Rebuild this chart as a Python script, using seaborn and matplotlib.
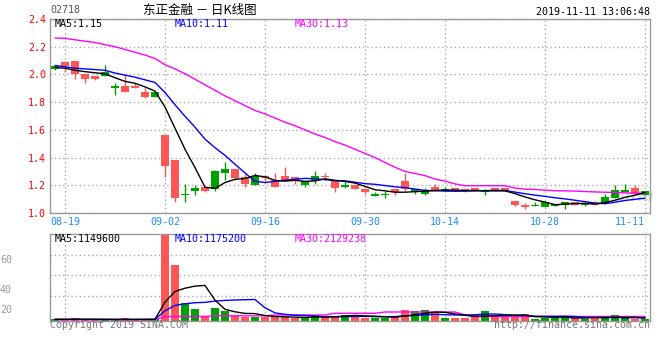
import matplotlib
matplotlib.use('Agg')

import matplotlib.pyplot as plt
import seaborn as sns
import numpy as np

# trading days shown (HK market, 2019)
days = ['08-16', '08-19', '08-20', '08-21', '08-22', '08-23', '08-26', '08-27', '08-28', '08-29',
        '08-30', '09-02', '09-03', '09-04', '09-05', '09-06', '09-09', '09-10', '09-11', '09-12',
        '09-13', '09-16', '09-17', '09-18', '09-19', '09-20', '09-23', '09-24', '09-25', '09-26',
        '09-27', '09-30', '10-02', '10-03', '10-04', '10-08', '10-09', '10-10', '10-11', '10-14',
        '10-15', '10-16', '10-17', '10-18', '10-21', '10-22', '10-23', '10-24', '10-25', '10-28',
        '10-29', '10-30', '10-31', '11-01', '11-04', '11-05', '11-06', '11-07', '11-08', '11-11']
tick_labels = ['08-19', '09-02', '09-16', '09-30', '10-14', '10-28', '11-11']

open_ = [2.04, 2.09, 2.10, 2.00, 1.99, 1.99, 1.90, 1.92, 1.92, 1.87,
         1.84, 1.56, 1.38, 1.13, 1.16, 1.19, 1.17, 1.29, 1.32, 1.26,
         1.20, 1.27, 1.24, 1.27, 1.26, 1.20, 1.23, 1.27, 1.23, 1.19,
         1.20, 1.17, 1.12, 1.13, 1.17, 1.23, 1.15, 1.14, 1.19, 1.16,
         1.18, 1.17, 1.18, 1.155, 1.18, 1.18, 1.09, 1.06, 1.05, 1.04,
         1.05, 1.06, 1.08, 1.055, 1.07, 1.07, 1.11, 1.155, 1.18, 1.13]
high = [2.07, 2.10, 2.10, 2.00, 1.99, 2.07, 1.94, 2.00, 1.94, 1.90,
        1.87, 1.56, 1.38, 1.21, 1.20, 1.19, 1.31, 1.37, 1.32, 1.28,
        1.29, 1.27, 1.29, 1.33, 1.26, 1.24, 1.30, 1.29, 1.23, 1.23,
        1.20, 1.17, 1.15, 1.16, 1.17, 1.29, 1.17, 1.18, 1.21, 1.19,
        1.18, 1.17, 1.18, 1.17, 1.18, 1.18, 1.09, 1.07, 1.08, 1.08,
        1.065, 1.08, 1.08, 1.075, 1.085, 1.135, 1.20, 1.21, 1.20, 1.16]
low = [2.03, 2.02, 1.97, 1.94, 1.96, 1.99, 1.85, 1.87, 1.90, 1.83,
       1.84, 1.26, 1.08, 1.08, 1.13, 1.15, 1.16, 1.24, 1.24, 1.19,
       1.20, 1.23, 1.19, 1.23, 1.21, 1.19, 1.21, 1.24, 1.15, 1.18,
       1.17, 1.14, 1.12, 1.11, 1.13, 1.16, 1.14, 1.13, 1.16, 1.16,
       1.16, 1.15, 1.16, 1.13, 1.16, 1.16, 1.05, 1.03, 1.05, 1.04,
       1.05, 1.03, 1.06, 1.05, 1.055, 1.07, 1.11, 1.15, 1.14, 1.13]
close = [2.06, 2.06, 2.00, 1.97, 1.97, 2.02, 1.92, 1.87, 1.90, 1.84,
         1.87, 1.34, 1.11, 1.14, 1.18, 1.16, 1.30, 1.32, 1.255, 1.21,
         1.27, 1.25, 1.19, 1.23, 1.24, 1.23, 1.27, 1.26, 1.18, 1.20,
         1.17, 1.15, 1.14, 1.14, 1.15, 1.17, 1.17, 1.16, 1.16, 1.17,
         1.16, 1.16, 1.16, 1.16, 1.16, 1.16, 1.06, 1.04, 1.055, 1.08,
         1.065, 1.08, 1.06, 1.063, 1.055, 1.115, 1.165, 1.165, 1.14, 1.16]

ma5 = [2.05, 2.045, 2.03, 2.02, 2.012, 2.004, 1.976, 1.95, 1.936, 1.91,
       1.88, 1.764, 1.612, 1.46, 1.328, 1.186, 1.178, 1.22, 1.243, 1.249,
       1.271, 1.261, 1.235, 1.23, 1.236, 1.228, 1.232, 1.246, 1.236, 1.228,
       1.216, 1.192, 1.168, 1.16, 1.15, 1.15, 1.154, 1.158, 1.162, 1.166,
       1.164, 1.162, 1.162, 1.16, 1.16, 1.16, 1.14, 1.116, 1.095, 1.079,
       1.06, 1.064, 1.068, 1.07, 1.065, 1.075, 1.092, 1.113, 1.128, 1.149]
ma10 = [2.065, 2.055, 2.045, 2.04, 2.035, 2.03, 2.01, 1.995, 1.98, 1.961,
        1.942, 1.870, 1.781, 1.698, 1.619, 1.533, 1.471, 1.416, 1.352, 1.289,
        1.229, 1.220, 1.228, 1.237, 1.243, 1.250, 1.247, 1.241, 1.233, 1.232,
        1.222, 1.212, 1.207, 1.198, 1.189, 1.183, 1.173, 1.163, 1.161, 1.158,
        1.157, 1.158, 1.16, 1.162, 1.163, 1.162, 1.151, 1.139, 1.129, 1.12,
        1.11, 1.102, 1.092, 1.082, 1.072, 1.067, 1.078, 1.09, 1.099, 1.107]
ma30 = [2.263, 2.26, 2.25, 2.24, 2.23, 2.215, 2.2, 2.18, 2.16, 2.14,
        2.115, 2.07, 2.04, 2.005, 1.965, 1.925, 1.885, 1.845, 1.81, 1.775,
        1.74, 1.715, 1.685, 1.655, 1.63, 1.60, 1.57, 1.545, 1.515, 1.49,
        1.46, 1.43, 1.40, 1.365, 1.33, 1.30, 1.285, 1.27, 1.245, 1.23,
        1.21, 1.197, 1.197, 1.197, 1.197, 1.197, 1.18, 1.172, 1.17, 1.165,
        1.16, 1.16, 1.158, 1.155, 1.152, 1.15, 1.148, 1.145, 1.143, 1.142]

# volume, 10k shares
vol = [68, 68, 108, 52, 52, 52, 52, 108, 52, 52,
       80, 3480, 2240, 708, 480, 212, 532, 412, 212, 160,
       172, 148, 212, 148, 108, 108, 240, 200, 200, 240,
       240, 132, 132, 108, 160, 440, 400, 440, 348, 120,
       108, 132, 240, 400, 172, 172, 172, 280, 80, 108,
       108, 200, 108, 68, 200, 108, 240, 108, 80, 68]
vol_ma5 = [68, 68, 70, 70, 70, 66, 63, 63, 63, 63,
           69, 756, 1180, 1312, 1396, 1424, 836, 468, 368, 304,
           296, 220, 180, 168, 156, 144, 164, 160, 172, 196,
           224, 204, 188, 172, 156, 196, 248, 308, 356, 348,
           284, 228, 188, 200, 212, 224, 232, 240, 176, 164,
           148, 156, 120, 120, 136, 136, 144, 144, 148, 120]
vol_ma10 = [64, 64, 64, 64, 64, 64, 64, 64, 64, 66,
            68, 408, 622, 688, 732, 746, 796, 824, 840, 852,
            860, 528, 324, 268, 232, 220, 192, 172, 168, 176,
            184, 184, 176, 172, 176, 208, 224, 248, 264, 252,
            240, 240, 248, 280, 280, 252, 232, 216, 188, 188,
            188, 192, 180, 148, 148, 144, 150, 132, 132, 128]
vol_ma30 = [56, 56, 56, 56, 56, 56, 56, 56, 56, 56,
            56, 172, 184, 184, 184, 184, 208, 208, 208, 208,
            208, 208, 240, 240, 240, 240, 240, 240, 308, 308,
            308, 308, 308, 360, 360, 360, 360, 360, 360, 360,
            360, 244, 170, 180, 180, 180, 180, 180, 180, 180,
            180, 180, 180, 180, 180, 180, 180, 180, 180, 180]

RED = '#ff5555'
GREEN = '#00a000'
GRID = '#aaaaaa'
MONO = ['DejaVu Sans Mono', 'Noto Sans CJK SC']

sns.set_style('white')
plt.rcParams['font.family'] = MONO
plt.rcParams['font.size'] = 7.2

fig = plt.figure(figsize=(6.6, 3.6), dpi=100)
ax = fig.add_axes([50/660, 147/360, 600/660, 194/360])
axv = fig.add_axes([50/660, 39/360, 600/660, 87/360])

x = np.arange(len(days))
o = np.array(open_); c = np.array(close)
colors = np.where(c >= o, GREEN, RED)
tick_pos = [days.index(t) for t in tick_labels]

# candles
ax.vlines(x, low, high, colors=colors, lw=1, zorder=2)
ax.bar(x, np.maximum(np.abs(c - o), 0.006), bottom=np.minimum(o, c),
       width=0.85, color=colors, linewidth=0, zorder=3)
sns.lineplot(x=x, y=ma30, color='#ff00ff', lw=1, ax=ax, zorder=4)
sns.lineplot(x=x, y=ma10, color='#0000ff', lw=1, ax=ax, zorder=5)
sns.lineplot(x=x, y=ma5, color='black', lw=1, ax=ax, zorder=6)

# volume
axv.bar(x, vol, width=0.85, color=colors, linewidth=0, zorder=2)
sns.lineplot(x=x, y=vol_ma30, color='#ff00ff', lw=1, ax=axv, zorder=4)
sns.lineplot(x=x, y=vol_ma10, color='#0000ff', lw=1, ax=axv, zorder=5)
sns.lineplot(x=x, y=vol_ma5, color='black', lw=1, ax=axv, zorder=6)

for a in (ax, axv):
    a.set_xlim(-0.5, len(days) - 0.5)
    a.set_xticks(tick_pos)
    a.grid(True, color=GRID, lw=1, ls=(0, (1, 2)))
    a.set_axisbelow(True)
    for s in a.spines.values():
        s.set_color('#999999')
        s.set_linewidth(1)
    a.tick_params(length=0)
    a.set_xlabel('')
    a.set_ylabel('')

ax.set_ylim(1.0, 2.4)
ax.set_yticks(np.arange(1.0, 2.41, 0.2))
ax.set_yticklabels(['%.1f' % v for v in np.arange(1.0, 2.41, 0.2)])
ax.tick_params(axis='y', labelcolor='#ff0000', pad=3)
ax.set_xticklabels(tick_labels)
ax.tick_params(axis='x', labelcolor='#1a8cff', pad=3)
ax.get_xticklabels()[-1].set_horizontalalignment('right')
ax.get_xticklabels()[-1].set_x(len(days) - 0.5)

axv.set_ylim(0, max(vol))
axv.set_yticks([1000, 1840, 2640])
axv.set_yticklabels([])
axv.set_xticklabels([])

# legends of moving averages
for a, labels, yy in ((ax, ['MA5:1.15', 'MA10:1.11', 'MA30:1.13'], 0.974),
                      (axv, ['MA5:1149600', 'MA10:1175200', 'MA30:2129238'], 0.94)):
    for lab, xx, col in zip(labels, [0.008, 0.208, 0.408], ['black', '#0000ff', '#ff00ff']):
        a.text(xx, yy, lab, transform=a.transAxes, color=col, va='center', ha='left')

for lab, yy in zip(['60', '40', '20'], [260, 290, 310]):
    fig.text(0.0, 1 - yy/360, lab, color='#999999', va='center', ha='left')

fig.text(50/660, 1 - 10/360, '02718', color='#555555', va='center', ha='left')
fig.text(200/660, 1 - 10/360, '东正金融 － 日K线图', family=['Noto Sans CJK SC', 'DejaVu Sans'],
         size=9, va='center', ha='center', color='black')
fig.text(650/660, 1 - 12/360, '2019-11-11 13:06:48', va='center', ha='right', color='black')
fig.text(50/660, 1 - 325/360, 'Copyright 2019 SINA.COM', va='center', ha='left', color='#777777')
fig.text(650/660, 1 - 325/360, 'http://finance.sina.com.cn', va='center', ha='right', color='#777777')
ax.text(0.975, 0.09, 'sina', transform=ax.transAxes, family='DejaVu Sans', style='italic',
        weight='bold', size=12, color='#d0d0d0', alpha=0.7, ha='center', va='center', zorder=1)

fig.savefig('out.png', dpi=100)
